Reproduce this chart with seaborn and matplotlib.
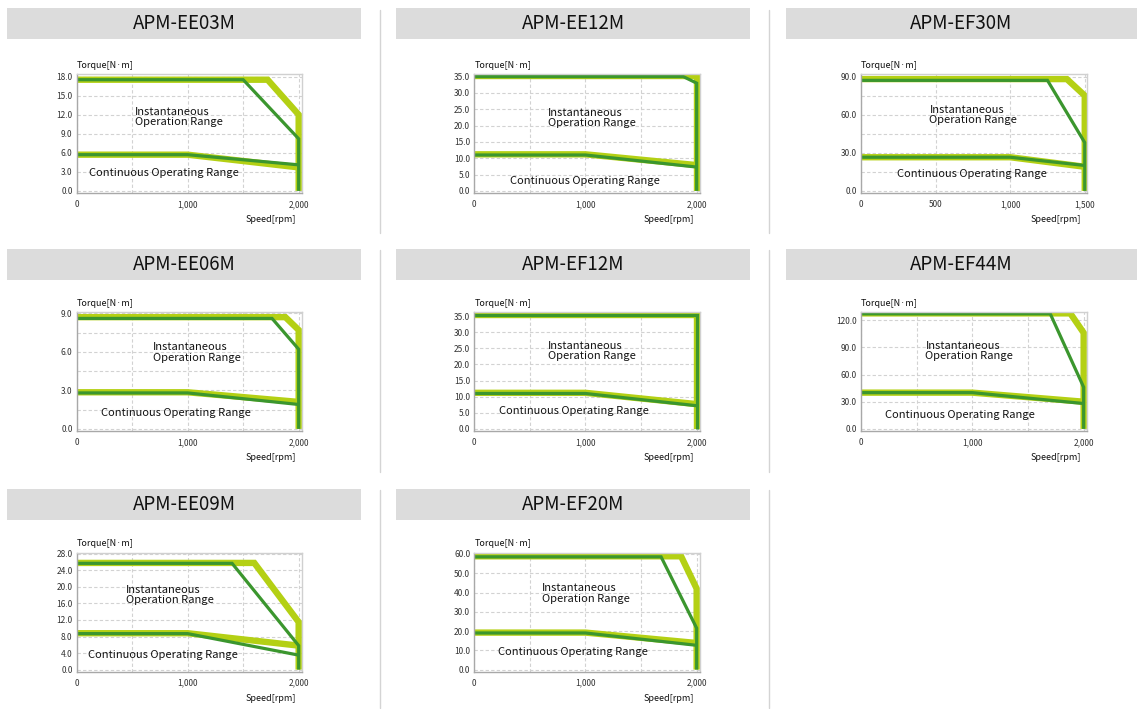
import matplotlib
matplotlib.use("Agg")
import matplotlib.pyplot as plt
import seaborn as sns
from matplotlib.patches import Rectangle
from matplotlib.lines import Line2D
from matplotlib.ticker import FixedLocator, FuncFormatter

# ---- data read from the speed / torque curves ----
models = ["APM-EE03M", "APM-EE12M", "APM-EF30M",
          "APM-EE06M", "APM-EF12M", "APM-EF44M",
          "APM-EE09M", "APM-EF20M"]

# instantaneous (peak) torque curve, light band
peak_light_speed = [[0, 1720, 2000, 2000], [0, 2005, 2005], [0, 1380, 1500, 1500],
                    [0, 1880, 2000, 2000], [0, 2000, 2000], [0, 1880, 2000, 2000],
                    [0, 1600, 2000, 2000], [0, 1860, 2000, 2000]]
peak_light_torque = [[17.5, 17.5, 12, 0], [35.2, 35.2, 0], [88, 88, 75, 0],
                     [8.7, 8.7, 7.7, 0], [35.5, 35.5, 0], [127.5, 127.5, 106, 0],
                     [25.8, 25.8, 11.5, 0], [58.8, 58.8, 42, 0]]
# instantaneous (peak) torque curve, dark line
peak_dark_speed = [[0, 1500, 2000, 2000], [0, 1880, 2000, 2000], [0, 1250, 1500, 1500],
                   [0, 1760, 2000, 2000], [0, 2000, 2000], [0, 1700, 2000, 2000],
                   [0, 1400, 2000, 2000], [0, 1680, 2000, 2000]]
peak_dark_torque = [[17.5, 17.5, 8.2, 0], [35, 35, 33, 0], [87, 87, 38, 0],
                    [8.6, 8.6, 6.2, 0], [35.5, 35.5, 0], [127, 127, 46, 0],
                    [25.7, 25.7, 5.8, 0], [58.5, 58.5, 21.5, 0]]
# continuous torque curve
cont_light_speed = [[0, 1000, 2000], [0, 1000, 2000], [0, 1000, 1500],
                    [0, 1000, 2000], [0, 1000, 2000], [0, 1000, 2000],
                    [0, 1000, 2000], [0, 1000, 2000]]
cont_light_torque = [[5.7, 5.7, 3.7], [11.2, 11.2, 7.9], [26.5, 26.5, 19],
                     [2.85, 2.85, 2.1], [11.2, 11.2, 7.7], [40, 40, 30],
                     [8.8, 8.8, 5.8], [19.2, 19.2, 13.8]]
cont_dark_speed = cont_light_speed
cont_dark_torque = [[5.7, 5.7, 4.1], [11.0, 11.0, 7.3], [26.5, 26.5, 20],
                    [2.8, 2.8, 1.9], [11.0, 11.0, 7.2], [40, 40, 28],
                    [8.7, 8.7, 3.5], [19, 19, 12.6]]

# axis scales
y_labels = [[0, 3, 6, 9, 12, 15, 18], [0, 5, 10, 15, 20, 25, 30, 35], [0, 30, 60, 90],
            [0, 3, 6, 9], [0, 5, 10, 15, 20, 25, 30, 35], [0, 30, 60, 90, 120],
            [0, 4, 8, 12, 16, 20, 24, 28], [0, 10, 20, 30, 40, 50, 60]]
y_grid = [[], [], [15, 45, 75], [1.5, 4.5, 7.5], [], [], [], []]
y_top = [18.4, 35.8, 92, 9.1, 36.3, 129, 28.2, 60.5]
x_labels = [[0, 1000, 2000]] * 2 + [[0, 500, 1000, 1500]] + [[0, 1000, 2000]] * 5
x_grid = [[500, 1500]] * 2 + [[]] + [[500, 1500]] * 5
x_right = [2030, 2030, 1515, 2030, 2030, 2030, 2030, 2030]

# label positions (axes fraction)
inst_pos = [(0.26, 0.64), (0.328, 0.63), (0.303, 0.656), (0.337, 0.66),
            (0.328, 0.673), (0.285, 0.672), (0.219, 0.648), (0.298, 0.66)]
cont_pos = [(0.056, 0.166), (0.158, 0.10), (0.158, 0.156), (0.108, 0.15),
            (0.111, 0.168), (0.106, 0.135), (0.052, 0.141), (0.106, 0.163)]

LIGHT = "#b4d014"
DARK = "#3b962e"

sns.set_theme(style="white")
plt.rcParams['font.family'] = ['Noto Sans CJK KR', 'DejaVu Sans']

W, H = 1137, 709
fig = plt.figure(figsize=(W / 100, H / 100), dpi=100)


def fx(x):
    return x / W


def fy(y):
    return 1 - y / H


col_header = [(7, 361), (396, 750), (786, 1137)]
col_axes = [(76.7, 302), (474.3, 700), (861, 1087)]
row_header = [(8, 38.7), (249, 279.7), (489, 519.7)]
row_axes = [(74, 193), (312, 431), (553, 671.7)]

# separators between columns
for sx in [379.5, 768.5]:
    for (y0, y1) in [(10, 233), (250, 472), (490, 708)]:
        fig.add_artist(Line2D([fx(sx), fx(sx)], [fy(y0), fy(y1)],
                              color="#d4d4d4", lw=1))

for i, name in enumerate(models):
    r, c = divmod(i, 3)
    hx0, hx1 = col_header[c]
    hy0, hy1 = row_header[r]
    fig.add_artist(Rectangle((fx(hx0), fy(hy1)), fx(hx1 - hx0), (hy1 - hy0) / H,
                             transform=fig.transFigure, facecolor="#dcdcdc",
                             edgecolor="none"))
    fig.text(fx((hx0 + hx1) / 2), fy((hy0 + hy1) / 2), name, ha="center",
             va="center", fontsize=13.5, fontweight="medium", color="#111111")

    ax0, ax1 = col_axes[c]
    ay0, ay1 = row_axes[r]
    ax = fig.add_axes([fx(ax0), fy(ay1), fx(ax1 - ax0), (ay1 - ay0) / H])

    ax.set_xlim(0, x_right[i])
    ax.set_ylim(-0.018 * y_top[i], y_top[i])

    ax.xaxis.set_major_locator(FixedLocator(x_labels[i]))
    ax.xaxis.set_minor_locator(FixedLocator(x_grid[i]))
    ax.yaxis.set_major_locator(FixedLocator(y_labels[i]))
    ax.yaxis.set_minor_locator(FixedLocator(y_grid[i]))
    ax.xaxis.set_major_formatter(FuncFormatter(lambda v, p: f"{v:,.0f}"))
    ax.yaxis.set_major_formatter(FuncFormatter(lambda v, p: f"{v:.1f}"))
    ax.tick_params(which="both", length=0, labelsize=6, colors="#333333")
    ax.tick_params(axis="y", pad=3)
    ax.tick_params(axis="x", pad=5)
    ax.grid(True, which="both", ls=(0, (3, 2)), color="#d2d2d2", lw=0.8)
    ax.set_axisbelow(True)
    for side in ["left", "bottom"]:
        ax.spines[side].set_color("#a8a8a8")
        ax.spines[side].set_linewidth(1)
    for side in ["top", "right"]:
        ax.spines[side].set_color("#d0d0d0")
        ax.spines[side].set_linewidth(1)

    # light band first, dark line on top
    sns.lineplot(x=peak_light_speed[i], y=peak_light_torque[i], sort=False,
                 estimator=None, color=LIGHT, lw=4.6, ax=ax,
                 solid_joinstyle="miter", solid_capstyle="butt")
    sns.lineplot(x=cont_light_speed[i], y=cont_light_torque[i], sort=False,
                 estimator=None, color=LIGHT, lw=4.6, ax=ax,
                 solid_joinstyle="miter", solid_capstyle="butt")
    sns.lineplot(x=peak_dark_speed[i], y=peak_dark_torque[i], sort=False,
                 estimator=None, color=DARK, lw=2.3, ax=ax,
                 solid_joinstyle="miter", solid_capstyle="butt")
    sns.lineplot(x=cont_dark_speed[i], y=cont_dark_torque[i], sort=False,
                 estimator=None, color=DARK, lw=2.3, ax=ax,
                 solid_joinstyle="miter", solid_capstyle="butt")

    ax.set_xlabel("")
    ax.set_ylabel("")

    ax.text(inst_pos[i][0], inst_pos[i][1], "Instantaneous\nOperation Range",
            transform=ax.transAxes, ha="left", va="center", fontsize=8,
            fontweight="medium", linespacing=1.05, color="#111111")
    ax.text(cont_pos[i][0], cont_pos[i][1], "Continuous Operating Range",
            transform=ax.transAxes, ha="left", va="center", fontsize=8,
            fontweight="medium", color="#111111")

    fig.text(fx(ax0), fy(ay0 - 9), "Torque[N·m]", ha="left", va="center",
             fontsize=6.5, fontweight="medium", color="#111111")
    fig.text(fx(ax1 - 6), fy(ay1 + 27), "Speed[rpm]", ha="right", va="center",
             fontsize=6.5, fontweight="medium", color="#111111")

fig.savefig("out.png", dpi=100)
